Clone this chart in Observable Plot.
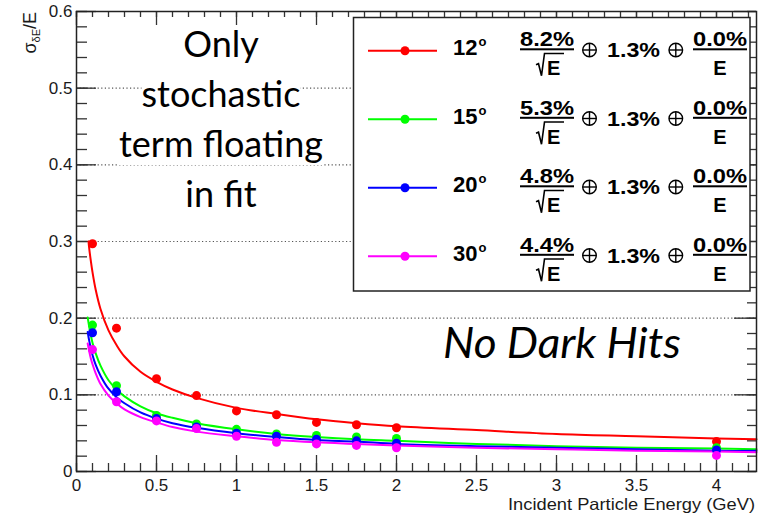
<!DOCTYPE html>
<html><head><meta charset="utf-8">
<script src="https://cdn.jsdelivr.net/npm/d3@7"></script>
<script src="https://cdn.jsdelivr.net/npm/@observablehq/plot@0.6"></script>
<style>body{margin:0;background:#fff}#chart{width:769px;height:517px}</style>
</head><body><div id="chart"></div>
<script>
// ---- data ----
const seriesNames = ["12", "15", "20", "30"];
const seriesColors = ["#ff0000", "#00ff00", "#0000ff", "#ff00ff"];
const stochTerms = ["8.2%", "5.3%", "4.8%", "4.4%"];
const constTerm = "1.3%";
const noiseTerm = "0.0%";

const pointEnergy = [0.1, 0.25, 0.5, 0.75, 1.0, 1.25, 1.5, 1.75, 2.0, 4.0];
const points12 = [0.297, 0.187, 0.121, 0.099, 0.079, 0.074, 0.064, 0.061, 0.057, 0.039];
const points15 = [0.191, 0.112, 0.073, 0.062, 0.055, 0.049, 0.047, 0.045, 0.043, 0.031];
const points20 = [0.181, 0.104, 0.069, 0.058, 0.050, 0.046, 0.042, 0.040, 0.037, 0.028];
const points30 = [0.159, 0.091, 0.066, 0.056, 0.046, 0.038, 0.036, 0.034, 0.031, 0.021];

const curveEnergy12 = [0.075, 0.08, 0.09, 0.1, 0.12, 0.15, 0.2, 0.25, 0.3, 0.4, 0.5, 0.6, 0.75, 1, 1.25, 1.5, 1.75, 2, 2.5, 3, 3.5, 4, 4.25];
const curve12 = [0.300, 0.290, 0.274, 0.260, 0.237, 0.212, 0.184, 0.165, 0.150, 0.130, 0.117, 0.107, 0.096, 0.083, 0.075, 0.068, 0.063, 0.059, 0.054, 0.049, 0.046, 0.043, 0.042];
const curveEnergy = [0.07, 0.08, 0.09, 0.1, 0.12, 0.15, 0.2, 0.25, 0.3, 0.4, 0.5, 0.6, 0.75, 1, 1.25, 1.5, 1.75, 2, 2.5, 3, 3.5, 4, 4.25];
const curve15 = [0.201, 0.188, 0.177, 0.168, 0.154, 0.138, 0.119, 0.107, 0.098, 0.085, 0.076, 0.070, 0.063, 0.055, 0.049, 0.045, 0.042, 0.040, 0.036, 0.033, 0.031, 0.030, 0.029];
const curve20 = [0.182, 0.170, 0.161, 0.152, 0.139, 0.125, 0.108, 0.097, 0.089, 0.077, 0.069, 0.063, 0.057, 0.050, 0.045, 0.041, 0.039, 0.036, 0.033, 0.031, 0.029, 0.027, 0.027];
const curve30 = [0.167, 0.156, 0.147, 0.140, 0.128, 0.114, 0.099, 0.089, 0.081, 0.071, 0.064, 0.058, 0.052, 0.046, 0.041, 0.038, 0.036, 0.034, 0.031, 0.029, 0.027, 0.026, 0.025];

const xTickValues = [0, 0.5, 1, 1.5, 2, 2.5, 3, 3.5, 4];
const xTickLabels = ["0", "0.5", "1", "1.5", "2", "2.5", "3", "3.5", "4"];
const yTickValues = [0, 0.1, 0.2, 0.3, 0.4, 0.5, 0.6];
const yTickLabels = ["0", "0.1", "0.2", "0.3", "0.4", "0.5", "0.6"];
const gridValues = [0.1, 0.2, 0.3, 0.4, 0.5];
const xTitle = "Incident Particle Energy (GeV)";
const noteLines = ["Only", "stochastic", "term floating", "in fit"];
const noteDark = "No Dark Hits";

// ---- build ----
const pointSets = [points12, points15, points20, points30];
const curveSets = [[curveEnergy12, curve12], [curveEnergy, curve15], [curveEnergy, curve20], [curveEnergy, curve30]];
const xLab = new Map(xTickValues.map((v, i) => [v, xTickLabels[i]]));
const yLab = new Map(yTickValues.map((v, i) => [v, yTickLabels[i]]));
const xMinor = d3.range(0, 4.2501, 0.1).map(v => +v.toFixed(2));
const yMinor = d3.range(0, 0.6001, 0.02).map(v => +v.toFixed(3));
const W = 769, H = 517, ML = 76, MR = 13, MT = 11, MB = 46;
const FW = W - ML - MR, FH = H - MT - MB;
const tk = {stroke: "#333", strokeWidth: 1.3};

const marks = [
  Plot.ruleY(gridValues, {stroke: "#555", strokeDasharray: "1.2,2.4", strokeWidth: 1.1}),
  Plot.tickY(yMinor, {...tk, insetRight: FW - 11}),
  Plot.tickY(yTickValues, {...tk, insetRight: FW - 20}),
  Plot.tickY(yMinor, {...tk, insetLeft: FW - 9}),
  Plot.tickY(yTickValues, {...tk, insetLeft: FW - 22}),
  Plot.tickX(xMinor, {...tk, insetTop: FH - 8}),
  Plot.tickX(xTickValues, {...tk, insetTop: FH - 16}),
  Plot.tickX(xMinor, {...tk, insetBottom: FH - 6}),
  Plot.tickX(xTickValues, {...tk, insetBottom: FH - 14}),
  Plot.axisX(xTickValues, {tickSize: 0, tickPadding: 7, tickFormat: d => xLab.get(d), label: null, fill: "#1a1a1a"}),
  Plot.axisY(yTickValues, {tickSize: 0, tickPadding: 4, tickFormat: d => yLab.get(d), label: null, fill: "#1a1a1a"}),
];
curveSets.forEach(([ex, vy], i) => {
  const data = ex.map((e, j) => ({E: e, v: vy[j]}));
  marks.push(Plot.line(data, {x: "E", y: "v", stroke: seriesColors[i], strokeWidth: 2, curve: "catmull-rom"}));
});
pointSets.forEach((ps, i) => {
  const data = pointEnergy.map((e, j) => ({E: e, v: ps[j]}));
  marks.push(Plot.dot(data, {x: "E", y: "v", fill: seriesColors[i], r: 4.5}));
});
marks.push(Plot.frame({stroke: "#222", strokeWidth: 1.5}));

const svgNode = Plot.plot({
  width: W, height: H, marginLeft: ML, marginRight: MR, marginTop: MT, marginBottom: MB,
  x: {domain: [0, 4.25]},
  y: {domain: [0, 0.6]},
  style: {fontFamily: "'Liberation Sans', Arial, sans-serif", fontSize: "17px", background: "white", color: "#1a1a1a"},
  marks
});
document.getElementById("chart").appendChild(svgNode);

const svg = d3.select(svgNode);

// x-axis title
svg.append("text").attr("x", 755).attr("y", 510).attr("text-anchor", "end")
  .attr("font-family", "'Liberation Sans', Arial, sans-serif").attr("font-size", 16.5)
  .attr("textLength", 247).attr("lengthAdjust", "spacingAndGlyphs")
  .attr("fill", "#1a1a1a").text(xTitle);

// y-axis title σ_δE/E (rotated)
const yt = svg.append("text")
  .attr("transform", "translate(36,12) rotate(-90)")
  .attr("text-anchor", "end")
  .attr("font-family", "'Liberation Sans', Arial, sans-serif")
  .attr("font-size", 18).attr("fill", "#1a1a1a");
yt.append("tspan").text("σ");
yt.append("tspan").attr("font-size", 11).attr("dy", 4).text("δE");
yt.append("tspan").attr("dy", -4).text("/E");

// annotation texts with white backgrounds
const noteFont = "Lato, 'Open Sans', sans-serif";
const noteG = svg.append("g");
noteLines.forEach((t, i) => {
  const g = noteG.append("g");
  const txt = g.append("text").attr("x", 221).attr("y", 57 + 50 * i)
    .attr("text-anchor", "middle").attr("font-family", noteFont)
    .attr("font-size", 36).attr("fill", "#000").text(t);
  const bb = txt.node().getBBox();
  g.insert("rect", "text").attr("x", bb.x).attr("y", bb.y + 4).attr("width", bb.width).attr("height", bb.height - 4).attr("fill", "#fff");
});
svg.append("text").attr("x", 443).attr("y", 358).attr("text-anchor", "start")
  .attr("font-family", noteFont).attr("font-style", "italic")
  .attr("font-size", 42).attr("textLength", 238).attr("lengthAdjust", "spacingAndGlyphs")
  .attr("fill", "#000").text(noteDark);

// legend
const lg = svg.append("g").attr("font-family", "'Liberation Sans', Arial, sans-serif").attr("font-weight", "bold").attr("fill", "#000").attr("text-anchor", "start");
lg.append("rect").attr("x", 353.5).attr("y", 17.5).attr("width", 396.5).attr("height", 273.5)
  .attr("fill", "#fff").attr("stroke", "#222").attr("stroke-width", 1.5);
function oplus(g, cx, cy) {
  g.append("circle").attr("cx", cx).attr("cy", cy).attr("r", 6.8).attr("fill", "none").attr("stroke", "#000").attr("stroke-width", 1.4);
  g.append("line").attr("x1", cx - 6.8).attr("x2", cx + 6.8).attr("y1", cy).attr("y2", cy).attr("stroke", "#000").attr("stroke-width", 1.4);
  g.append("line").attr("x1", cx).attr("x2", cx).attr("y1", cy - 6.8).attr("y2", cy + 6.8).attr("stroke", "#000").attr("stroke-width", 1.4);
}
seriesNames.forEach((name, i) => {
  const cy = 50.7 + 68.5 * i;
  const g = lg.append("g");
  g.append("line").attr("x1", 368).attr("x2", 437).attr("y1", cy).attr("y2", cy).attr("stroke", seriesColors[i]).attr("stroke-width", 2);
  g.append("circle").attr("cx", 405).attr("cy", cy).attr("r", 4.5).attr("fill", seriesColors[i]);
  const lab = g.append("text").attr("x", 453).attr("y", cy + 4.5).attr("font-size", 22);
  lab.append("tspan").text(name);
  lab.append("tspan").attr("font-size", 13).attr("dy", -9).attr("dx", 1).text("o");
  // stochastic fraction
  g.append("text").attr("x", 520).attr("y", cy - 4.5).attr("font-size", 20).attr("textLength", 54).attr("lengthAdjust", "spacingAndGlyphs").text(stochTerms[i]);
  g.append("rect").attr("x", 520).attr("y", cy - 2.4).attr("width", 54).attr("height", 2).attr("fill", "#000");
  g.append("path").attr("d", `M536,${cy + 14} L538.5,${cy + 13} L541.5,${cy + 25} L544.5,${cy + 2.8} L564,${cy + 2.8}`)
    .attr("fill", "none").attr("stroke", "#000").attr("stroke-width", 1.6);
  g.append("text").attr("x", 547).attr("y", cy + 24.3).attr("font-size", 20).text("E");
  oplus(g, 589.5, cy - 0.7);
  g.append("text").attr("x", 607).attr("y", cy + 6.3).attr("font-size", 21).attr("textLength", 53).attr("lengthAdjust", "spacingAndGlyphs").text(constTerm);
  oplus(g, 675.8, cy - 0.7);
  g.append("text").attr("x", 693).attr("y", cy - 4.5).attr("font-size", 20).attr("textLength", 54).attr("lengthAdjust", "spacingAndGlyphs").text(noiseTerm);
  g.append("rect").attr("x", 693).attr("y", cy - 2.4).attr("width", 54).attr("height", 2).attr("fill", "#000");
  g.append("text").attr("x", 720).attr("y", cy + 24.3).attr("font-size", 20).attr("text-anchor", "middle").text("E");
});
</script>
</body></html>
